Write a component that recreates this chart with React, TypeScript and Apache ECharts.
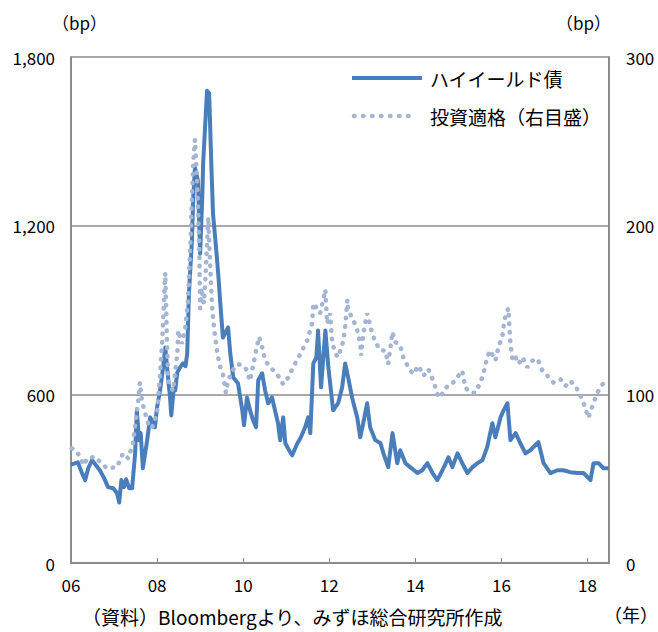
import React, { useEffect, useRef } from "react";
import * as echarts from "echarts";

// High-yield spread (bp, left axis): [year, value]
const highYield: [number, number][] = [
  [2006.0, 350], [2006.16, 358], [2006.26, 318], [2006.33, 295], [2006.4, 337], [2006.49, 366],
  [2006.58, 348], [2006.67, 330], [2006.77, 302], [2006.86, 270], [2006.98, 266], [2007.07, 248],
  [2007.12, 215], [2007.17, 295], [2007.23, 270], [2007.28, 298], [2007.35, 266], [2007.42, 266],
  [2007.49, 390], [2007.53, 543], [2007.58, 437], [2007.62, 462], [2007.67, 337], [2007.77, 437],
  [2007.84, 518], [2007.95, 483], [2008.0, 554], [2008.07, 614], [2008.14, 696], [2008.19, 767],
  [2008.23, 700], [2008.3, 589], [2008.33, 525], [2008.38, 610], [2008.42, 614], [2008.47, 678],
  [2008.52, 692], [2008.6, 710], [2008.66, 700], [2008.7, 745], [2008.74, 958], [2008.81, 1147],
  [2008.84, 1300], [2008.88, 1406], [2008.95, 1360], [2009.0, 1100], [2009.05, 1300], [2009.07, 1420],
  [2009.16, 1680], [2009.21, 1670], [2009.26, 1420], [2009.3, 1242], [2009.37, 1122], [2009.42, 1030],
  [2009.47, 923], [2009.53, 802], [2009.65, 838], [2009.7, 746], [2009.77, 660], [2009.88, 639],
  [2009.98, 543], [2010.02, 490], [2010.09, 589], [2010.16, 543], [2010.23, 508], [2010.3, 483],
  [2010.35, 650], [2010.44, 675], [2010.51, 614], [2010.58, 568], [2010.67, 589], [2010.74, 543],
  [2010.81, 497], [2010.86, 437], [2010.93, 518], [2010.98, 426], [2011.07, 400], [2011.14, 383],
  [2011.26, 426], [2011.33, 444], [2011.44, 483], [2011.51, 518], [2011.56, 462], [2011.63, 710],
  [2011.7, 731], [2011.74, 827], [2011.81, 625], [2011.91, 827], [2011.98, 696], [2012.09, 543],
  [2012.21, 570], [2012.3, 625], [2012.37, 710], [2012.44, 660], [2012.53, 589], [2012.65, 518],
  [2012.72, 447], [2012.79, 497], [2012.88, 568], [2012.95, 483], [2013.07, 437], [2013.19, 426],
  [2013.26, 390], [2013.37, 341], [2013.47, 462], [2013.58, 355], [2013.65, 401], [2013.77, 355],
  [2013.88, 341], [2014.05, 320], [2014.16, 330], [2014.28, 355], [2014.4, 320], [2014.51, 295],
  [2014.63, 330], [2014.77, 376], [2014.86, 341], [2014.98, 390], [2015.09, 355], [2015.21, 320],
  [2015.33, 341], [2015.44, 355], [2015.56, 366], [2015.67, 412], [2015.79, 497], [2015.86, 447],
  [2015.98, 518], [2016.05, 543], [2016.14, 568], [2016.21, 437], [2016.33, 462], [2016.44, 426],
  [2016.56, 390], [2016.67, 401], [2016.86, 430], [2016.98, 355], [2017.14, 320], [2017.3, 330],
  [2017.44, 330], [2017.6, 323], [2017.77, 320], [2017.91, 320], [2018.07, 295], [2018.14, 355],
  [2018.26, 355], [2018.37, 337], [2018.49, 337],
];

// Investment-grade spread (bp, right axis): [year, value]
const investmentGrade: [number, number][] = [
  [2006.02, 68], [2006.14, 66], [2006.3, 58], [2006.37, 62], [2006.56, 63], [2006.67, 60],
  [2006.84, 56], [2007.07, 57], [2007.21, 65], [2007.33, 62], [2007.44, 71], [2007.56, 96],
  [2007.6, 107], [2007.65, 96], [2007.72, 89], [2007.8, 82], [2007.88, 80], [2008.0, 89],
  [2008.07, 112], [2008.12, 132], [2008.19, 172], [2008.23, 132], [2008.26, 108], [2008.37, 102],
  [2008.47, 124], [2008.49, 138], [2008.58, 130], [2008.65, 138], [2008.72, 156], [2008.77, 187],
  [2008.81, 217], [2008.84, 237], [2008.88, 251], [2008.93, 227], [2008.98, 187], [2009.0, 151],
  [2009.03, 163], [2009.09, 154], [2009.12, 167], [2009.19, 205], [2009.23, 179], [2009.28, 151],
  [2009.33, 138], [2009.4, 124], [2009.47, 116], [2009.53, 112], [2009.6, 101], [2009.65, 108],
  [2009.75, 114], [2009.88, 118], [2010.05, 116], [2010.16, 108], [2010.3, 126], [2010.37, 134],
  [2010.44, 128], [2010.51, 120], [2010.63, 116], [2010.79, 112], [2010.93, 106], [2011.05, 110],
  [2011.16, 116], [2011.33, 124], [2011.49, 132], [2011.6, 142], [2011.63, 154], [2011.79, 148],
  [2011.91, 162], [2011.95, 142], [2012.02, 148], [2012.07, 130], [2012.19, 122], [2012.26, 126],
  [2012.33, 132], [2012.37, 140], [2012.42, 156], [2012.44, 150], [2012.56, 144], [2012.65, 138],
  [2012.72, 130], [2012.74, 123], [2012.79, 136], [2012.88, 148], [2013.0, 136], [2013.07, 131],
  [2013.19, 126], [2013.3, 126], [2013.37, 118], [2013.47, 137], [2013.53, 131], [2013.65, 129],
  [2013.72, 122], [2013.84, 116], [2013.95, 112], [2014.07, 117], [2014.19, 111], [2014.3, 115],
  [2014.4, 109], [2014.47, 104], [2014.54, 98], [2014.65, 101], [2014.77, 106], [2014.88, 107],
  [2015.0, 111], [2015.09, 114], [2015.16, 104], [2015.28, 101], [2015.4, 101], [2015.51, 107],
  [2015.58, 112], [2015.67, 122], [2015.74, 126], [2015.86, 120], [2015.93, 128], [2016.02, 134],
  [2016.05, 140], [2016.09, 146], [2016.16, 151], [2016.21, 130], [2016.26, 120], [2016.33, 122],
  [2016.4, 118], [2016.49, 122], [2016.6, 116], [2016.72, 120], [2016.84, 121], [2016.95, 114],
  [2017.07, 111], [2017.21, 107], [2017.37, 109], [2017.49, 105], [2017.6, 108], [2017.72, 105],
  [2017.84, 99], [2017.95, 92], [2018.02, 86], [2018.14, 95], [2018.23, 101], [2018.35, 106],
  [2018.47, 108],
];

const seriesNames = ["ハイイールド債", "投資適格（右目盛）"];
const leftTicks = { min: 0, max: 1800, interval: 600 };
const rightTicks = { min: 0, max: 300, interval: 100 };
const yearRange = { min: 2006, max: 2018.5, interval: 2 };

const FONT = '"Noto Sans CJK JP", "Noto Sans", sans-serif';
const HY_COLOR = "#4a7ebb";
const IG_COLOR = "#a5b5d4";
const AXIS_COLOR = "#8c8c8c";

export default function App() {
  const ref = useRef<HTMLDivElement>(null);
  useEffect(() => {
    if (!ref.current) return;
    const chart = echarts.init(ref.current, null, { renderer: "svg" });
    chart.setOption({
      animation: false,
      backgroundColor: "#ffffff",
      textStyle: { fontFamily: FONT },
      grid: { left: 71, right: 49, top: 57, bottom: 69, containLabel: false },
      xAxis: {
        type: "value",
        min: yearRange.min,
        max: yearRange.max,
        interval: yearRange.interval,
        axisLine: { show: true, lineStyle: { color: AXIS_COLOR, width: 2 } },
        axisTick: { show: true, inside: true, length: 5, lineStyle: { color: AXIS_COLOR, width: 1 } },
        splitLine: { show: false },
        axisLabel: {
          margin: 13,
          color: "#000",
          fontSize: 17,
          fontFamily: FONT,
          showMaxLabel: false,
          formatter: (v: number) =>
            Number.isInteger(v) ? String(v % 100).padStart(2, "0") : "",
        },
      },
      yAxis: [
        {
          type: "value",
          min: leftTicks.min,
          max: leftTicks.max,
          interval: leftTicks.interval,
          axisLine: { show: true, lineStyle: { color: AXIS_COLOR, width: 2 } },
          axisTick: { show: false },
          splitLine: { show: true, lineStyle: { color: AXIS_COLOR, width: 1.5 } },
          axisLabel: {
            margin: 16,
            color: "#000",
            fontSize: 17,
            fontFamily: FONT,
            formatter: (v: number) => v.toLocaleString("en-US"),
          },
        },
        {
          type: "value",
          min: rightTicks.min,
          max: rightTicks.max,
          interval: rightTicks.interval,
          position: "right",
          axisLine: { show: true, lineStyle: { color: AXIS_COLOR, width: 2 } },
          axisTick: { show: false },
          splitLine: { show: false },
          axisLabel: {
            margin: 17,
            color: "#000",
            fontSize: 17,
            fontFamily: FONT,
          },
        },
      ],
      series: [
        {
          name: seriesNames[0],
          type: "line",
          yAxisIndex: 0,
          data: highYield,
          showSymbol: false,
          symbol: "none",
          lineStyle: { color: HY_COLOR, width: 4, join: "round" },
        },
        {
          name: seriesNames[1],
          type: "line",
          yAxisIndex: 1,
          data: investmentGrade,
          showSymbol: false,
          symbol: "none",
          lineStyle: { color: IG_COLOR, width: 4.5, type: [0.5, 8], cap: "round" },
        },
      ],
      graphic: [
        { type: "text", x: 52, y: 22, style: { text: "（bp）", font: `17px ${FONT}`, fill: "#000", verticalAlign: "middle" } },
        { type: "text", x: 556, y: 22, style: { text: "（bp）", font: `17px ${FONT}`, fill: "#000", verticalAlign: "middle" } },
        { type: "line", shape: { x1: 352, y1: 78, x2: 422, y2: 78 }, style: { stroke: HY_COLOR, lineWidth: 4 } },
        { type: "text", x: 430, y: 78, style: { text: seriesNames[0], font: `19px ${FONT}`, fill: "#000", verticalAlign: "middle" } },
        { type: "line", shape: { x1: 354, y1: 116, x2: 414, y2: 116 }, style: { stroke: IG_COLOR, lineWidth: 4.5, lineDash: [0.5, 8.5], lineCap: "round" } },
        { type: "text", x: 430, y: 116, style: { text: seriesNames[1], font: `19px ${FONT}`, fill: "#000", verticalAlign: "middle" } },
        { type: "text", x: 82, y: 616, style: { text: "（資料）Bloombergより、みずほ総合研究所作成", font: `19px ${FONT}`, fill: "#000", verticalAlign: "middle" } },
        { type: "text", x: 604, y: 614, style: { text: "（年）", font: `18px ${FONT}`, fill: "#000", verticalAlign: "middle" } },
      ],
    });
    return () => chart.dispose();
  }, []);
  return <div ref={ref} style={{ width: 658, height: 632, position: "absolute", left: 0, top: 0 }} />;
}
